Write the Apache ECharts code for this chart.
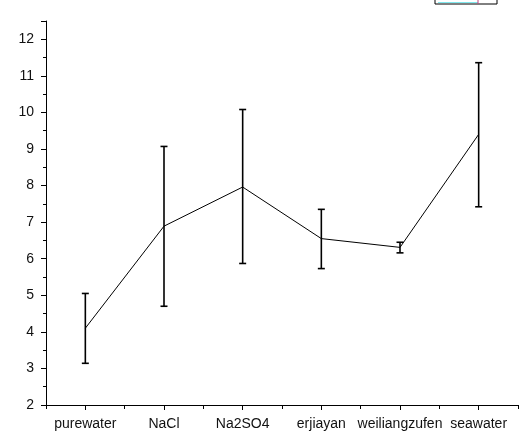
<!DOCTYPE html>
<html>
<head>
<meta charset="utf-8">
<script src="https://cdn.jsdelivr.net/npm/echarts@6/dist/echarts.min.js"></script>
<style>
html,body{margin:0;padding:0;background:#fff;}
#main{width:532px;height:446px;}
</style>
</head>
<body>
<div id="main"></div>
<script>
var categories = ['purewater', 'NaCl', 'Na2SO4', 'erjiayan', 'weiliangzufen', 'seawater'];
var means = [4.10, 6.89, 7.96, 6.55, 6.31, 9.40];
var upper = [5.05, 9.07, 10.08, 7.35, 6.45, 11.36];
var lower = [3.14, 4.70, 5.87, 5.73, 6.16, 7.42];

var errData = categories.map(function (c, i) { return [i, lower[i], upper[i]]; });

var chart = echarts.init(document.getElementById('main'));
var font = 'Liberation Sans, Arial, sans-serif';
chart.setOption({
  backgroundColor: '#fff',
  animation: false,
  grid: { left: 46, right: 14, top: 21, bottom: 41 },
  xAxis: [{
    type: 'category',
    data: categories,
    boundaryGap: true,
    axisLine: { lineStyle: { color: '#000', width: 1 } },
    axisTick: { show: true, interval: 0, length: 4, lineStyle: { color: '#000' } },
    axisLabel: { color: '#111', fontSize: 14, fontFamily: font, margin: 12, interval: 0, hideOverlap: false },
    splitLine: { show: false }
  }, {
    type: 'category',
    data: categories,
    position: 'bottom',
    boundaryGap: true,
    axisLine: { show: false },
    axisTick: { show: true, interval: 0, alignWithLabel: true, length: 5, lineStyle: { color: '#000' } },
    axisLabel: { show: false, interval: 0 },
    splitLine: { show: false }
  }],
  yAxis: {
    type: 'value',
    min: 2, max: 12.5, interval: 1,
    axisLine: { show: true, lineStyle: { color: '#000', width: 1 } },
    axisTick: { show: true, length: 5, lineStyle: { color: '#000' } },
    minorTick: { show: true, splitNumber: 2, length: 3, lineStyle: { color: '#000' } },
    axisLabel: { color: '#111', fontSize: 14, fontFamily: font, margin: 12, showMaxLabel: false,
      formatter: function (v) { return Number.isInteger(v) ? String(v) : ''; } },
    splitLine: { show: false }
  },
  series: [{
    type: 'line',
    data: means,
    xAxisIndex: 0,
    symbol: 'none',
    lineStyle: { color: '#000', width: 1 },
    z: 3
  }, {
    type: 'custom',
    xAxisIndex: 0,
    data: errData,
    z: 4,
    renderItem: function (params, api) {
      var x = api.value(0);
      var lo = api.coord([x, api.value(1)]);
      var hi = api.coord([x, api.value(2)]);
      var hw = 3.5;
      var st = { stroke: '#000', lineWidth: 1.6 };
      return {
        type: 'group',
        children: [
          { type: 'line', shape: { x1: hi[0], y1: hi[1], x2: lo[0], y2: lo[1] }, style: st },
          { type: 'line', shape: { x1: hi[0] - hw, y1: hi[1], x2: hi[0] + hw, y2: hi[1] }, style: st },
          { type: 'line', shape: { x1: lo[0] - hw, y1: lo[1], x2: lo[0] + hw, y2: lo[1] }, style: st }
        ]
      };
    }
  }],
  graphic: [
    { type: 'rect', shape: { x: 435, y: -6, width: 62, height: 10 }, style: { fill: '#fff', stroke: '#000', lineWidth: 1 } },
    { type: 'rect', shape: { x: 438, y: 2, width: 40, height: 1 }, style: { fill: '#7fe8ee' } },
    { type: 'line', shape: { x1: 478, y1: -2, x2: 478, y2: 4 }, style: { stroke: '#c04080', lineWidth: 1 } }
  ]
});
</script>
</body>
</html>
